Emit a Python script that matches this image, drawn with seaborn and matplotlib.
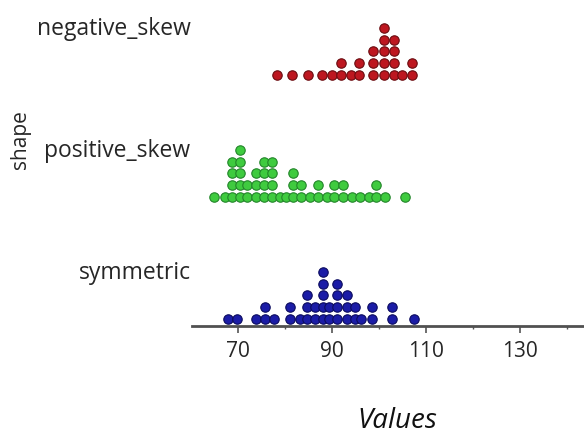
import numpy as np
import pandas as pd
import matplotlib
matplotlib.use("Agg")
import matplotlib.pyplot as plt
import seaborn as sns

# Category order from bottom band to top band
shapes = ["symmetric", "positive_skew", "negative_skew"]

# Dot-plot data: distinct values and how many cases share each value
sym_values = [68.0, 69.8, 74.0, 75.9, 77.8, 81.1, 83.2, 84.8, 86.5, 88.1,
              89.5, 91.2, 93.2, 94.9, 96.3, 98.5, 102.9, 107.5]
sym_counts = [1, 1, 1, 2, 1, 2, 1, 3, 2, 5, 2, 4, 3, 2, 1, 2, 2, 1]

pos_values = [65.0, 67.3, 68.8, 70.4, 72.0, 74.0, 75.6, 77.3, 78.9, 80.3,
              81.7, 83.5, 85.3, 87.1, 88.9, 90.5, 92.3, 94.2, 96.0, 97.9,
              99.5, 101.3, 105.6]
pos_counts = [1, 1, 4, 5, 2, 3, 4, 4, 1, 1, 3, 2, 1, 2, 1, 2, 2, 1, 1, 1,
              2, 1, 1]

neg_values = [78.3, 81.5, 85.0, 88.0, 90.1, 92.0, 94.0, 95.8, 98.8, 101.0,
              103.2, 105.0, 107.0]
neg_counts = [1, 1, 1, 1, 1, 2, 1, 2, 3, 5, 4, 1, 2]

x_ticks = [70, 90, 110, 130]
x_minor_ticks = [80, 100, 120, 140]

fill_colors = {"symmetric": "#1b1ca6", "positive_skew": "#3fcb3f",
               "negative_skew": "#bd1720"}
edge_colors = {"symmetric": "#0b0b5e", "positive_skew": "#23852a",
               "negative_skew": "#6a0c10"}

sns.set_theme(style="white")
plt.rcParams["font.family"] = ["Open Sans", "DejaVu Sans"]
text_color = "#262626"

# Long-form table: one row per case
frames = []
for shape, vals, cnts in [("symmetric", sym_values, sym_counts),
                          ("positive_skew", pos_values, pos_counts),
                          ("negative_skew", neg_values, neg_counts)]:
    frames.append(pd.DataFrame({"shape": shape,
                                "Values": np.repeat(vals, cnts)}))
df = pd.concat(frames, ignore_index=True)

# Stack equal values upward inside each category band
band_h = 122.0
band_base = 7.5
dot_step = 11.6
df["level"] = df.groupby(["shape", "Values"]).cumcount()
row_index = {s: i for i, s in enumerate(shapes)}
df["ypos"] = df["shape"].map(row_index) * band_h + band_base + df["level"] * dot_step

fig = plt.figure(figsize=(5.84, 4.35), dpi=100)
ax = fig.add_axes([192 / 584, 1 - 327 / 435, 392 / 584, 327 / 435])

for shape in shapes:
    sns.scatterplot(data=df[df["shape"] == shape], x="Values", y="ypos",
                    color=fill_colors[shape], edgecolor=edge_colors[shape],
                    linewidth=0.8, s=46, ax=ax, legend=False, clip_on=False)

ax.set_xlim(60.3, 143.6)
ax.set_ylim(0, 327)

ax.set_xticks(x_ticks)
ax.set_xticklabels([str(t) for t in x_ticks])
ax.set_xticks(x_minor_ticks, minor=True)
ax.tick_params(axis="x", which="major", bottom=True, length=5, width=1.2,
               color="#555555", direction="out", labelsize=15, pad=5,
               labelcolor=text_color)
ax.tick_params(axis="x", which="minor", bottom=True, length=2.5, width=1.0,
               color="#555555", direction="out")

ax.set_yticks([row_index[s] * band_h + 57 for s in shapes])
ax.set_yticklabels(shapes)
ax.tick_params(axis="y", length=0, pad=1, labelsize=16.5, labelcolor=text_color)

for side in ("left", "top", "right"):
    ax.spines[side].set_visible(False)
ax.spines["bottom"].set_color("#505050")
ax.spines["bottom"].set_linewidth(2)

ax.set_xlabel("Values", style="italic", fontsize=20, color="#111111",
              va="center")
ax.xaxis.set_label_coords((397 - 192) / 392, -(421 - 327) / 327)
ax.set_ylabel("shape", fontsize=15, color=text_color, va="center")
ax.yaxis.set_label_coords((20 - 192) / 392, (327 - 139.5) / 327)

fig.savefig("out.png", dpi=100)
